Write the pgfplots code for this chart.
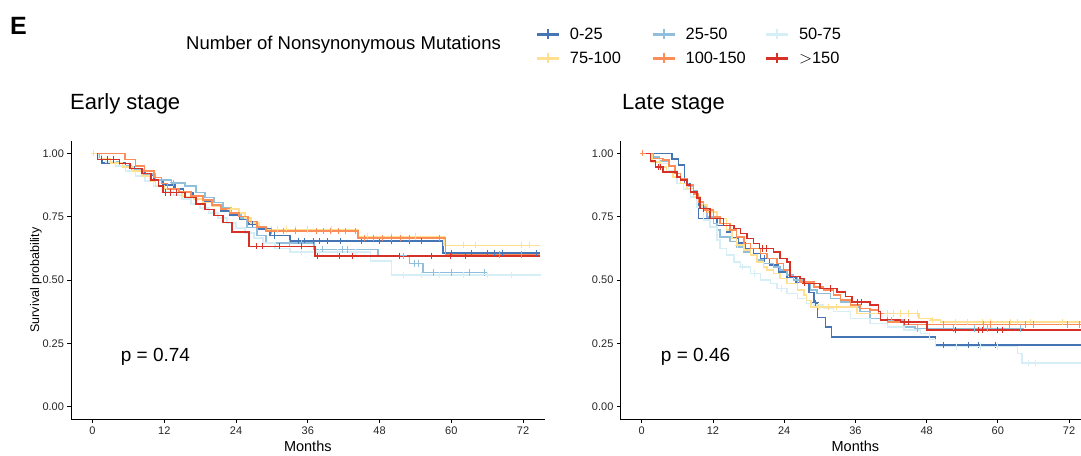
\documentclass[border=0pt]{standalone}
\usepackage{fontspec}
\setmainfont{Liberation Sans}
\usepackage{pgfplots}
\pgfplotsset{compat=1.18}
\definecolor{c1}{HTML}{4575B4}
\definecolor{c2}{HTML}{91BFDB}
\definecolor{c3}{HTML}{D6EEF6}
\definecolor{c4}{HTML}{FEE090}
\definecolor{c5}{HTML}{FC8D59}
\definecolor{c6}{HTML}{D73027}
\pgfplotsset{
  km/.style={
    scale only axis, height=278.8bp, anchor=south west,
    xmin=-3.6, xmax=75.6, ymin=-0.05, ymax=1.05,
    axis lines*=left, axis line style={line width=0.9bp, black},
    xtick={0,12,24,36,48,60,72}, ytick={0,0.25,0.5,0.75,1},
    yticklabel style={/pgf/number format/fixed, /pgf/number format/fixed zerofill, /pgf/number format/precision=2},
    tick align=outside, major tick length=3.5bp,
    every tick/.style={line width=0.9bp, black},
    tick label style={font=\fontsize{11bp}{13bp}\selectfont, text=black!85},
    /pgf/number format/assume math mode=true,
    xlabel={Months},
    xlabel style={font=\fontsize{14.5bp}{16bp}\selectfont, at={(axis description cs:0.5,0)}, anchor=center, yshift=-26.5bp},
    const plot,
    every axis plot/.append style={line width=1.5bp},
    cens/.style={only marks, mark=+, mark size=3.2bp, mark options={line width=1bp}, forget plot},
  }
}
\begin{document}
\begin{tikzpicture}
% ---------------- Early stage ----------------
\begin{axis}[km, at={(71bp,36.6bp)}, width=473.6bp,
  ylabel={Survival probability},
  ylabel style={font=\fontsize{12.5bp}{14bp}\selectfont, at={(axis description cs:-0.0739,0.5)}, anchor=center},
  legend columns=3,
  legend style={at={(axis description cs:0.9797,1.412)}, anchor=north west, draw=none, fill=none,
    font=\fontsize{16.4bp}{19bp}\selectfont, inner sep=0pt, row sep=7bp,
    /tikz/column 1/.style={column sep=7bp},
    /tikz/column 2/.style={column sep=28bp},
    /tikz/column 3/.style={column sep=7bp},
    /tikz/column 4/.style={column sep=16.5bp},
    /tikz/column 5/.style={column sep=7bp}},
  legend cell align=left,
  legend image code/.code={\draw[#1, line width=3.2bp] (0bp,0bp) -- (22.5bp,0bp); \draw[#1, line width=1.8bp] (11.25bp,-5bp) -- (11.25bp,5bp);},
]
\addplot[c1] coordinates {(0,1) (0.8,0.975) (1.6,0.962) (5.5,0.948) (7,0.932) (8.8,0.912) (10.3,0.893) (11.8,0.874) (13.8,0.86) (15.2,0.846) (16.8,0.83) (18.4,0.81) (20,0.79) (21.5,0.772) (23,0.756) (24.6,0.74) (26,0.72) (27.6,0.702) (29.7,0.676) (33,0.653) (58.6,0.607) (74.8,0.607)};
\addlegendentry{0-25}
\addplot[c1, cens] coordinates {(13.5,0.874) (26.8,0.72) (30.5,0.676) (34.5,0.653) (35.5,0.653) (37,0.653) (38,0.653) (39.3,0.653) (41.5,0.653) (45,0.653) (48,0.653) (50,0.653) (53,0.653) (55,0.653) (60,0.607) (63.3,0.607) (66,0.607) (67.3,0.607) (68.5,0.607) (74.3,0.607)};
\addplot[c2] coordinates {(0,1) (1.2,0.98) (2.5,0.965) (4.5,0.95) (6.5,0.935) (8.5,0.918) (10.5,0.895) (13.2,0.883) (15.5,0.87) (17.3,0.845) (18.8,0.825) (20.3,0.805) (21.8,0.785) (23.2,0.765) (24.8,0.745) (25.8,0.707) (27.5,0.675) (29,0.645) (37,0.62) (47.7,0.595) (53,0.565) (55.3,0.53) (66,0.53)};
\addlegendentry{25-50}
\addplot[c2, cens] coordinates {(13.5,0.883) (33,0.645) (35,0.645) (38.5,0.62) (41.8,0.62) (42.7,0.62) (52,0.595) (53.8,0.565) (54.5,0.565) (57,0.53) (60,0.53) (63,0.53) (65.5,0.53)};
\addplot[c3] coordinates {(0,1) (1,0.98) (2.2,0.965) (3.8,0.95) (5.5,0.93) (7.2,0.91) (8.8,0.89) (10.2,0.87) (11.8,0.85) (13.5,0.835) (15,0.82) (16.5,0.8) (18,0.785) (19.5,0.765) (21,0.745) (22.5,0.725) (24,0.705) (25.5,0.685) (27,0.665) (28.5,0.645) (30.5,0.625) (33,0.61) (46.5,0.575) (50,0.52) (75,0.52)};
\addlegendentry{50-75}
\addplot[c3, cens] coordinates {(35,0.61) (38,0.61) (41,0.61) (44,0.61) (52,0.52) (55,0.52) (58,0.52) (62,0.52) (66,0.52) (70,0.52)};
\addplot[c4] coordinates {(0,1) (1.5,0.98) (3,0.962) (5,0.945) (6.8,0.93) (8.3,0.91) (9.5,0.89) (10.5,0.872) (12,0.86) (13.5,0.845) (15,0.83) (17,0.82) (18.5,0.805) (20,0.79) (21.5,0.78) (24.5,0.765) (25.5,0.745) (26.5,0.725) (27.8,0.71) (29,0.70) (44.4,0.672) (58.8,0.637) (74.8,0.637)};
\addlegendentry{75-100}
\addplot[c4, cens] coordinates {(0.2,1) (23,0.78) (30,0.70) (31,0.70) (32.5,0.70) (34,0.70) (36,0.70) (40,0.70) (46,0.672) (50,0.672) (54,0.672) (62,0.637) (64,0.637) (71.8,0.637) (73,0.637)};
\addplot[c5] coordinates {(0,1) (5.4,0.976) (7.2,0.95) (8.7,0.93) (10.3,0.905) (11.5,0.88) (12.5,0.86) (14.5,0.848) (16.5,0.832) (18.5,0.815) (20,0.795) (21.5,0.78) (23,0.765) (24.5,0.75) (26,0.73) (27.5,0.71) (29,0.693) (44.4,0.665) (59,0.60) (74.8,0.60)};
\addlegendentry{100-150}
\addplot[c5, cens] coordinates {(30,0.693) (32,0.693) (34,0.693) (37.5,0.693) (38.7,0.693) (39.8,0.693) (41.2,0.693) (42.3,0.693) (44,0.693) (45.5,0.665) (47,0.665) (48.5,0.665) (50,0.665) (51.5,0.665) (53,0.665) (58,0.665) (68,0.60) (71.8,0.60)};
\addplot[c6] coordinates {(0,1) (0.8,0.975) (4.5,0.96) (6.3,0.94) (8.3,0.92) (9.8,0.895) (11,0.87) (11.8,0.845) (15.5,0.826) (17.3,0.80) (18.8,0.778) (20.3,0.755) (21.8,0.727) (23.3,0.69) (26.2,0.633) (37.2,0.594) (74.8,0.594)};
\addlegendentry{\ensuremath{>}150}
\addplot[c6, cens] coordinates {(1.5,0.975) (2.5,0.975) (3.5,0.975) (12.2,0.845) (13,0.845) (14,0.845) (27.4,0.633) (28.5,0.633) (31.3,0.633) (35,0.633) (37.7,0.594) (41.3,0.594) (43.5,0.594) (51.3,0.594) (56.7,0.594) (59.8,0.594) (62.3,0.594)};
\node[anchor=base west, inner sep=0pt, font=\fontsize{19bp}{22bp}\selectfont] at (axis cs:4.7,0.18) {p = 0.74};
\end{axis}
% ---------------- Late stage ----------------
\begin{axis}[km, at={(620.4bp,36.6bp)}, width=470bp]
\addplot[c1] coordinates {(0,1) (5.1,0.977) (6.2,0.953) (7.2,0.88) (8.2,0.848) (9.3,0.815) (9.6,0.743) (12.7,0.716) (14.3,0.69) (15.2,0.665) (16.3,0.645) (17.5,0.625) (18.8,0.605) (20,0.585) (21.5,0.56) (23,0.532) (24.5,0.51) (26,0.49) (28.2,0.45) (29,0.41) (29.6,0.352) (31,0.315) (32,0.276) (49.5,0.243) (74.2,0.243)};
\addplot[c1, cens] coordinates {(20.6,0.585) (29.3,0.41) (50.9,0.243) (55.1,0.243) (56.8,0.243) (59.6,0.243)};
\addplot[c2] coordinates {(0,1) (1.5,0.985) (3,0.97) (4.5,0.95) (5.6,0.92) (6.5,0.881) (7.8,0.868) (8.7,0.854) (9.3,0.82) (9.8,0.789) (11,0.749) (12.1,0.723) (12.7,0.697) (13.2,0.67) (14.9,0.651) (16,0.631) (17.2,0.611) (18.3,0.598) (19.4,0.578) (20.5,0.565) (22.2,0.552) (23.3,0.539) (24.5,0.519) (25.6,0.50) (27.3,0.487) (28.4,0.46) (29.5,0.447) (31.8,0.427) (33.5,0.414) (35.2,0.394) (36.8,0.375) (38.5,0.349) (40.2,0.342) (44.2,0.315) (46,0.309) (63.9,0.309)};
\addplot[c2, cens] coordinates {(26.2,0.50) (42,0.342) (46.4,0.309) (52.6,0.309) (56,0.309) (58.2,0.309) (63.8,0.309)};
\addplot[c3] coordinates {(0,1) (1.5,0.98) (3,0.96) (4.5,0.93) (5.9,0.881) (7,0.86) (8.2,0.828) (9.3,0.789) (10.4,0.736) (11.5,0.71) (12.7,0.657) (13.2,0.625) (14.3,0.598) (15.5,0.572) (16.6,0.552) (18.3,0.526) (20,0.50) (21.7,0.487) (22.8,0.467) (24.5,0.447) (26.2,0.427) (27.8,0.408) (29,0.401) (30.6,0.388) (32.3,0.375) (35.2,0.349) (38.5,0.329) (41.4,0.315) (44.2,0.302) (47,0.289) (48.5,0.265) (49.5,0.237) (63.3,0.21) (64.1,0.173) (74.2,0.173)};
\addplot[c3, cens] coordinates {(17,0.552) (19,0.526) (23.5,0.467) (53,0.237) (57,0.237) (60,0.237) (65.2,0.173) (66.3,0.173)};
\addplot[c4] coordinates {(0,1) (1.7,0.966) (3.1,0.946) (4.2,0.927) (5.3,0.907) (6.5,0.881) (7.6,0.861) (8.7,0.828) (9.8,0.795) (11,0.769) (12.7,0.743) (14.3,0.697) (15.2,0.664) (16,0.638) (17.2,0.618) (18.3,0.598) (19.4,0.572) (20.5,0.552) (21.1,0.539) (22.2,0.526) (23.3,0.506) (24.5,0.487) (26.2,0.46) (27.3,0.44) (27.8,0.42) (28.5,0.394) (36.3,0.368) (46.7,0.349) (48.7,0.342) (50.3,0.335) (74.2,0.335)};
\addplot[c4, cens] coordinates {(16.2,0.638) (29.8,0.394) (31.5,0.394) (32.8,0.394) (41.4,0.368) (42.5,0.368) (43.6,0.368) (45,0.368) (46.4,0.368) (49,0.342) (52.9,0.335) (54.9,0.335) (57.4,0.335) (58.8,0.335) (62.2,0.335) (63.3,0.335) (65.5,0.335) (70.9,0.335)};
\addplot[c5] coordinates {(0,1) (2,0.98) (3.6,0.973) (4.6,0.95) (5.6,0.92) (6.5,0.90) (7.6,0.874) (8.7,0.84) (9.6,0.808) (10.4,0.776) (12.1,0.749) (13.2,0.723) (14.9,0.697) (16,0.67) (17.2,0.644) (18.3,0.625) (20,0.605) (21.1,0.585) (22.8,0.565) (23.9,0.539) (25,0.513) (26.7,0.493) (29,0.473) (30.6,0.46) (32.3,0.44) (33.5,0.421) (35.2,0.401) (36.8,0.388) (38.5,0.381) (39.9,0.368) (41.4,0.335) (44.2,0.325) (74.2,0.325)};
\addplot[c5, cens] coordinates {(0.2,1) (10.9,0.776) (50.9,0.325) (57.6,0.325) (58.8,0.325) (61.9,0.325) (64.7,0.325) (66,0.325) (71.7,0.325) (73.7,0.325)};
\addplot[c6] coordinates {(0,1) (1.5,0.97) (2.3,0.946) (3.6,0.927) (5.9,0.907) (6.5,0.894) (7.6,0.874) (8.2,0.848) (9.3,0.823) (9.8,0.782) (11.5,0.743) (13.8,0.716) (15.5,0.703) (16.6,0.684) (17.7,0.664) (18.8,0.644) (19.8,0.625) (22.2,0.611) (23.3,0.585) (24.5,0.572) (25,0.513) (26.7,0.506) (27.3,0.487) (30,0.467) (32.9,0.453) (34.3,0.434) (35.4,0.414) (38.5,0.401) (39.9,0.375) (40.2,0.342) (43.6,0.335) (48.1,0.302) (74.2,0.302)};
\addplot[c6, cens] coordinates {(2.8,0.946) (3.2,0.946) (10.4,0.782) (20.3,0.625) (21,0.625) (27.5,0.487) (31.8,0.467) (36.3,0.414) (37.1,0.414) (44.3,0.335) (45,0.335) (52.9,0.302) (56.8,0.302) (57.4,0.302) (59.9,0.302) (60.8,0.302)};
\node[anchor=base west, inner sep=0pt, font=\fontsize{19bp}{22bp}\selectfont] at (axis cs:3.2,0.18) {p = 0.46};
\end{axis}
% ---------------- texts ----------------
\node[anchor=base west, inner sep=0pt, font=\fontsize{25bp}{28bp}\selectfont\bfseries] at (10bp,421.4bp) {E};
\node[anchor=base west, inner sep=0pt, font=\fontsize{18.5bp}{22bp}\selectfont] at (186bp,406.5bp) {Number of Nonsynonymous Mutations};
\node[anchor=base west, inner sep=0pt, font=\fontsize{22bp}{25bp}\selectfont] at (70bp,346bp) {Early stage};
\node[anchor=base west, inner sep=0pt, font=\fontsize{22bp}{25bp}\selectfont] at (622bp,346bp) {Late stage};
\pgfresetboundingbox
\path[use as bounding box] (0,0) rectangle (1081bp,456bp);
\end{tikzpicture}
\end{document}
